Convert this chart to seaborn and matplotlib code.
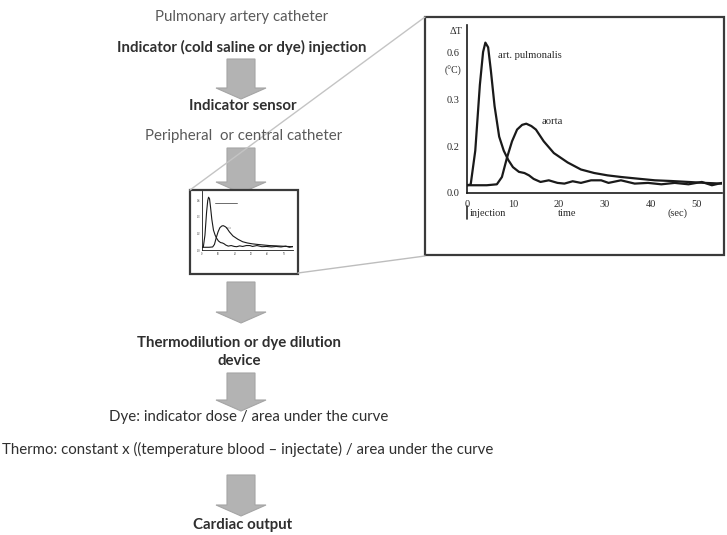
import numpy as np
import matplotlib
matplotlib.use('Agg')
import matplotlib.pyplot as plt
from matplotlib.patches import Polygon, Rectangle
import seaborn as sns

# curva de termodilución (lectura aproximada del gráfico)
t_pulm = [0, 0.8, 1.8, 2.8, 3.5, 4.0, 4.6, 5.2, 6.0, 7.0, 8.0, 9.0, 10.0, 11.3,
          12.5, 13.5, 14.5, 16.0, 17.8, 19.7, 21.2, 23.0, 24.8, 27.0, 29.2, 30.8,
          33.5, 36.5, 39.4, 42.3, 45.2, 48.2, 51.1, 53.3, 55.5]
dT_pulm = [0.033, 0.036, 0.18, 0.46, 0.60, 0.64, 0.62, 0.52, 0.37, 0.24, 0.18,
           0.14, 0.11, 0.09, 0.085, 0.075, 0.06, 0.047, 0.054, 0.043, 0.04, 0.05,
           0.043, 0.054, 0.054, 0.043, 0.054, 0.04, 0.043, 0.037, 0.043, 0.037,
           0.047, 0.033, 0.043]
t_aorta = [0, 4.3, 6.5, 7.6, 8.7, 9.8, 10.9, 12.0, 12.9, 14.0, 15.0, 16.7, 18.9,
           21.9, 24.8, 27.7, 30.6, 33.6, 37.2, 40.9, 44.5, 48.2, 51.8, 55.5]
dT_aorta = [0.033, 0.033, 0.037, 0.068, 0.15, 0.22, 0.27, 0.29, 0.295, 0.285,
            0.27, 0.22, 0.17, 0.13, 0.10, 0.085, 0.075, 0.068, 0.061, 0.054,
            0.051, 0.047, 0.043, 0.04]

y_ticks = [0.0, 0.2, 0.4, 0.6]
y_ticklabels = ['0.0', '0.2', '0.3', '0.6']
x_ticks = [0, 10, 20, 30, 40, 50]

# textos del diagrama de flujo
txt_top = 'Pulmonary artery catheter'
txt_inj = 'Indicator (cold saline or dye) injection'
txt_sensor = 'Indicator sensor'
txt_periph = 'Peripheral  or central catheter'
txt_device = 'Thermodilution or dye dilution\ndevice'
txt_dye = 'Dye: indicator dose / area under the curve'
txt_thermo = 'Thermo: constant x ((temperature blood \u2013 injectate) / area under the curve'
txt_co = 'Cardiac output'

sns.set_style('white')
plt.rcParams['font.family'] = ['Lato', 'DejaVu Sans']

W, H = 727, 535
fig = plt.figure(figsize=(W / 100, H / 100), dpi=100)
ax = fig.add_axes([0, 0, 1, 1])
ax.set_xlim(0, W)
ax.set_ylim(H, 0)
ax.axis('off')


def block_arrow(top, flange, tip, cx=241):
    pts = [(cx - 14, top), (cx + 14, top), (cx + 14, flange), (cx + 25, flange),
           (cx, tip), (cx - 25, flange), (cx - 14, flange)]
    ax.add_patch(Polygon(pts, closed=True, facecolor='#b3b3b3', edgecolor='#a5a5a5', lw=0.8))


block_arrow(59, 88, 99)
block_arrow(148, 182, 193)
block_arrow(282, 312, 323)
block_arrow(373, 400, 411)
block_arrow(475, 505, 516)

dark = '#2f2f2f'
grey = '#5a5a5a'
fs = 10.8
ax.text(242, 17, txt_top, ha='center', va='center', fontsize=fs, color=grey)
ax.text(242, 47, txt_inj, ha='center', va='center', fontsize=fs, color=dark, fontweight='bold')
ax.text(243, 106, txt_sensor, ha='center', va='center', fontsize=fs, color=dark, fontweight='bold')
ax.text(244, 136, txt_periph, ha='center', va='center', fontsize=fs, color=grey)
ax.text(239, 352, txt_device, ha='center', va='center', fontsize=fs, color=dark,
        fontweight='bold', linespacing=1.3)
ax.text(249, 417, txt_dye, ha='center', va='center', fontsize=fs, color=dark)
ax.text(248, 449, txt_thermo, ha='center', va='center', fontsize=fs, color=dark)
ax.text(243, 525, txt_co, ha='center', va='center', fontsize=fs, color=dark, fontweight='bold')

# líneas de zoom y cajas
ax.plot([190, 425], [190, 17], color='#c4c4c4', lw=1)
ax.plot([298, 425], [273, 256], color='#bdbdbd', lw=1)
ax.add_patch(Rectangle((190, 190), 108, 84, facecolor='white', edgecolor='#3a3a3a', lw=1.6))
ax.add_patch(Rectangle((425, 17), 299, 238, facecolor='white', edgecolor='#3a3a3a', lw=1.6))


def curve_axes(rect, fs, lw, spine_lw):
    l, b, w, h = rect
    a = fig.add_axes([l / W, 1 - b / H, w / W, h / H])
    a.patch.set_alpha(0)
    sns.lineplot(x=t_pulm, y=dT_pulm, ax=a, color='#1a1a1a', lw=lw, sort=False, estimator=None)
    sns.lineplot(x=t_aorta, y=dT_aorta, ax=a, color='#1a1a1a', lw=lw, sort=False, estimator=None)
    a.set_xlim(0, 55.5)
    a.set_ylim(0, 0.715)
    sns.despine(ax=a)
    for s in ['left', 'bottom']:
        a.spines[s].set_linewidth(spine_lw)
        a.spines[s].set_color('#1a1a1a')
    a.set_xticks(x_ticks)
    a.set_yticks(y_ticks)
    a.set_yticklabels(y_ticklabels)
    a.tick_params(length=0, labelsize=fs, pad=fs * 0.7)
    for lab in a.get_xticklabels() + a.get_yticklabels():
        lab.set_family(['Liberation Serif', 'DejaVu Serif'])
        lab.set_color('#2a2a2a')
    a.set_xlabel('')
    a.set_ylabel('')
    return a


# gráfico grande
big = curve_axes((467, 193, 255, 168), 7.5, 1.6, 1.2)
serif = ['Liberation Serif', 'DejaVu Serif']
ink = '#2a2a2a'
ax.text(456, 32, '\u0394T', ha='center', va='center', fontsize=7.5, family=serif, color=ink)
ax.text(453, 71, '(\u00b0C)', ha='center', va='center', fontsize=7, family=serif, color=ink)
ax.text(498, 56, 'art. pulmonalis', ha='left', va='center', fontsize=7.7, family=serif, color=ink)
ax.text(542, 122, 'aorta', ha='left', va='center', fontsize=7.7, family=serif, color=ink)
ax.plot([467, 467], [206, 219], color=ink, lw=1.2)
ax.text(470, 213, 'injection', ha='left', va='center', fontsize=7.5, family=serif, color=ink)
ax.text(567, 213, 'time', ha='center', va='center', fontsize=7.5, family=serif, color=ink)
ax.text(678, 213, '(sec)', ha='center', va='center', fontsize=7.5, family=serif, color=ink)

# miniatura dentro de la caja pequeña
mini = curve_axes((202, 250, 91, 59), 2, 0.8, 0.6)
ax.plot([215, 237], [203, 203], color='#555555', lw=0.6)
ax.text(226, 228, 'aorta', ha='left', va='center', fontsize=2, family=serif, color='#555555')

fig.savefig('out.png', dpi=100)
